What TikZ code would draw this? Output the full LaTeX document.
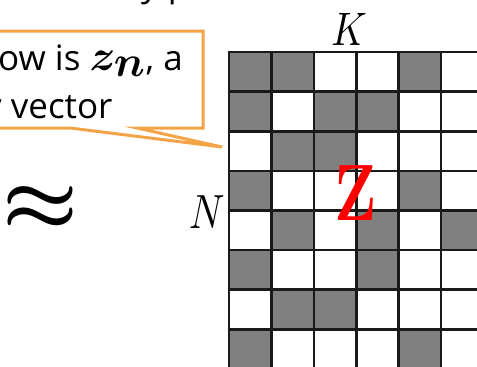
\documentclass[tikz,border=0pt]{standalone}
\usepackage{amsmath,bm}
\usepackage{fontspec}
\newfontfamily\callfont{Open Sans}
\definecolor{callorange}{HTML}{F4A446}
\definecolor{cellgray}{HTML}{808080}
\definecolor{gridline}{HTML}{1A1A1A}
\tikzset{
  calloutline/.style={draw=callorange, line width=3pt, line join=miter},
  gridrule/.style={draw=gridline, line width=2.6pt},
  calltext/.style={inner sep=0pt, anchor=base west, font=\callfont\fontsize{35}{35}\selectfont},
  mathlabel/.style={inner sep=0pt, anchor=base},
}
\begin{document}
\begin{tikzpicture}[x=1pt,y=-1pt]
\useasboundingbox (0,0) rectangle (477,367);
\clip (0,0) rectangle (477,367);
% grid cells
\foreach \pat [count=\r from 0] in {{1,1,0,0,1,0},{1,0,1,1,0,0},{0,1,1,0,0,0},{1,0,0,0,1,0},{0,1,0,1,0,1},{1,0,0,1,0,0},{0,1,1,0,0,0},{1,0,0,0,1,0}}{
  \foreach \v [count=\c from 0] in \pat {
    \ifnum\v=1
      \fill[cellgray] ({229+\c*42.4},{52+\r*39.6}) rectangle ++(42.4,39.6);
    \fi
  }
}
\foreach \i in {0,...,6}{
  \draw[gridrule] ({229+\i*42.4},52) -- ({229+\i*42.4},375);
}
\foreach \j in {0,...,8}{
  \draw[gridrule] (227.7,{52+\j*39.6}) -- (480,{52+\j*39.6});
}
% labels
\node[mathlabel] (K) at (349,45) {\scalebox{3.85}[4.7]{$K$}};
\node[mathlabel] (N) at (207,228) {\scalebox{3.9}[4.8]{$N$}};
\node[mathlabel, text=red] (Z) at (356,220) {\scalebox{0.77}[1]{\fontsize{80}{80}\selectfont\bfseries Z}};
\node[inner sep=0pt] (approx) at (41,208) {\scalebox{8.5}[8]{$\boldsymbol{\approx}$}};
% callout
\coordinate (tip) at (222,147);
\draw[calloutline] (-5,128) -- (70,128) -- (tip) -- (137,128) -- (203,128) -- (203,31) -- (-5,31);
\node[calltext] (line1) at (-2,70) {ow is \scalebox{1.75}{$\boldsymbol{z}_{\boldsymbol{n}}$}, a};
\node[calltext] (line2) at (-16,118) {y vector};
% text above, mostly cut off
\node[calltext] (topline) at (141,-4) {y p};
\end{tikzpicture}
\end{document}
